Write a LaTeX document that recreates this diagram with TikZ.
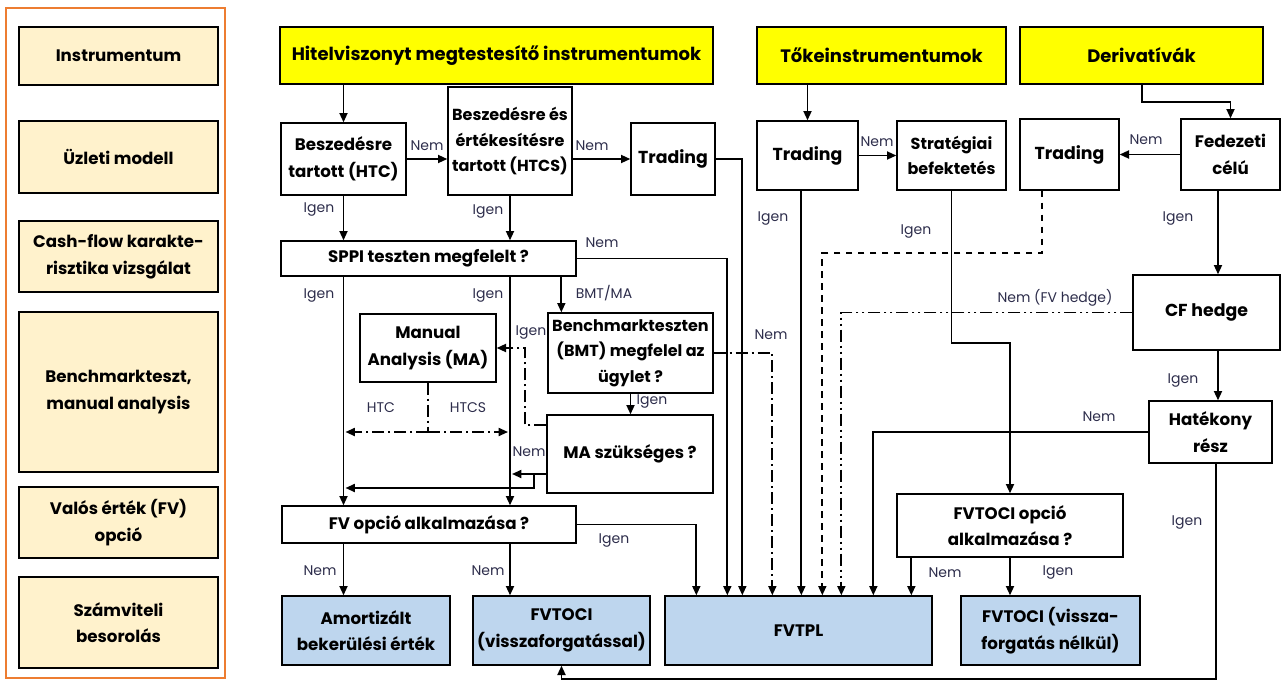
\documentclass[tikz,border=0pt]{standalone}
\usepackage{fontspec}
\setmainfont{Poppins}
\usetikzlibrary{arrows.meta,calc}

\definecolor{headyellow}{RGB}{255,255,0}
\definecolor{rowbeige}{RGB}{255,242,204}
\definecolor{frameorange}{RGB}{237,125,49}
\definecolor{resultblue}{RGB}{190,214,238}
\definecolor{labelink}{RGB}{45,45,75}

\tikzset{every picture/.style={line width=0.75pt}}
\tikzset{
  bw/.style={minimum width=#1*0.75pt},
  bh/.style={minimum height=#1*0.75pt},
  box/.style={draw, line width=1pt, fill=white, align=center, inner sep=0pt,
    font=\fontsize{12.5}{20}\selectfont\bfseries},
  rowbox/.style={box, fill=rowbeige},
  headbox/.style={box, fill=headyellow, font=\fontsize{13.5}{17}\selectfont\bfseries},
  resbox/.style={box, fill=resultblue},
  link/.style={line width=1.35pt},
  flow/.style={link, -{Triangle[length=7pt,width=6pt]}},
  lbl/.style={font=\fontsize{10.5}{12}\selectfont, text=labelink, inner sep=0pt},
  dashdot/.style={dash pattern=on 9pt off 3pt on 1.5pt off 3pt},
  dashdotdot/.style={dash pattern=on 9pt off 3pt on 1.5pt off 3pt on 1.5pt off 3pt},
  dashline/.style={dash pattern=on 5pt off 4pt}
}

\begin{document}
\begin{tikzpicture}[x=0.75pt,y=0.75pt,yscale=-1,xscale=1]
\useasboundingbox (0,0) rectangle (1286,682);

%Shape: Rectangle
\draw [frameorange, line width=1.6pt] (6,8) rectangle (225,678);

% Left column
\node [rowbox, bw=199, bh=58] (lInstr) at (118.5,56) {Instrumentum};
\node [rowbox, bw=199, bh=72] (lModell) at (118.5,157) {Üzleti modell};
\node [rowbox, bw=199, bh=71] (lCash) at (118.5,256.5) {Cash-flow karakte-\\risztika vizsgálat};
\node [rowbox, bw=199, bh=160] (lBench) at (118.5,392) {Benchmarkteszt,\\manual analysis};
\node [rowbox, bw=199, bh=71] (lFV) at (118.5,522.5) {Valós érték (FV)\\opció};
\node [rowbox, bw=199, bh=91] (lBesor) at (118.5,622.5) {Számviteli\\besorolás};

% Instruments
\node [headbox, bw=433, bh=57] (yHitel) at (496.5,55.5) {Hitelviszonyt megtestesítő instrumentumok};
\node [headbox, bw=249, bh=57] (yToke) at (881.5,55.5) {Tőkeinstrumentumok};
\node [headbox, bw=243, bh=57] (yDeriv) at (1141.5,55.5) {Derivatívák};

% Business model
\node [box, bw=125, bh=72] (nHTC) at (343.5,159) {Beszedésre\\tartott (HTC)};
\node [box, bw=124, bh=108, font=\fontsize{12}{19}\selectfont\bfseries] (nHTCS) at (510,141) {Beszedésre és\\értékesítésre\\tartott (HTCS)};
\node [box, bw=84, bh=72, font=\fontsize{13}{20}\selectfont\bfseries] (nTrad1) at (673,159) {Trading};
\node [box, bw=101, bh=69, font=\fontsize{13}{20}\selectfont\bfseries] (nTrad2) at (807.5,155.5) {Trading};
\node [box, bw=109, bh=69, font=\fontsize{12}{19}\selectfont\bfseries] (nStrat) at (951.5,155.5) {Stratégiai\\befektetés};
\node [box, bw=99, bh=71, font=\fontsize{13}{20}\selectfont\bfseries] (nTrad3) at (1069.5,154.5) {Trading};
\node [box, bw=99, bh=71] (nFedez) at (1230.5,154.5) {Fedezeti\\célú};

% Tests
\node [box, bw=295, bh=35] (nSPPI) at (428.5,258.5) {SPPI teszten megfelelt ?};
\node [box, bw=165, bh=80, font=\fontsize{12}{19}\selectfont\bfseries] (nBMT) at (630.5,353) {Benchmarkteszten\\(BMT) megfelel az\\ügylet ?};
\node [box, bw=136, bh=68] (nMA) at (428,348) {Manual\\Analysis (MA)};
\node [box, bw=166, bh=78] (nMAsz) at (630,454) {MA szükséges ?};
\node [box, bw=294, bh=37] (nFVopc) at (429,524.5) {FV opció alkalmazása ?};
\node [box, bw=147, bh=75, font=\fontsize{13}{20}\selectfont\bfseries] (nCF) at (1206.5,312.5) {CF hedge};
\node [box, bw=123, bh=62] (nHat) at (1210.5,432) {Hatékony\\rész};
\node [box, bw=226, bh=63] (nFVopc2) at (1010,525.5) {FVTOCI opció\\alkalmazása ?};

% Classification
\node [resbox, bw=168, bh=69] (nAmort) at (366,630.5) {Amortizált\\bekerülési érték};
\node [resbox, bw=177, bh=69] (nFVOCI1) at (561.5,630.5) {FVTOCI\\(visszaforgatással)};
\node [resbox, bw=267, bh=69] (nFVTPL) at (798.5,630.5) {FVTPL};
\node [resbox, bw=179, bh=69] (nFVOCI2) at (1050.5,630.5) {FVTOCI (vissza-\\forgatás nélkül)};

% FVTPL inputs
\coordinate (tpla) at ($(nFVTPL.north west)+(32,0)$);
\coordinate (tplb) at ($(nFVTPL.north west)+(63,0)$);
\coordinate (tplc) at ($(nFVTPL.north west)+(78,0)$);
\coordinate (tpld) at ($(nFVTPL.north west)+(108,0)$);
\coordinate (tple) at ($(nFVTPL.north west)+(137,0)$);
\coordinate (tplf) at ($(nFVTPL.north west)+(158,0)$);
\coordinate (tplg) at ($(nFVTPL.north west)+(177,0)$);
\coordinate (tplh) at ($(nFVTPL.north west)+(209,0)$);
\coordinate (tpli) at ($(nFVTPL.north west)+(247,0)$);

%Straight Lines
\draw [flow] (yHitel.south -| nHTC.north) -- (nHTC.north);
\draw [flow] (nHTC.east) -- (nHTC.east -| nHTCS.west);
\draw [flow] (nHTCS.east |- nTrad1.west) -- (nTrad1.west);
\draw [flow] (nTrad1.east) -| (tplc);
\draw [flow] (nHTC.south) -- (nHTC.south |- nSPPI.north);
\draw [flow] (nHTCS.south) -- (nHTCS.south |- nSPPI.north);
\draw [flow] (nSPPI.east) -| (tplb);
\coordinate (bmtIn) at ($(nBMT.north west)+(14,0)$);
\draw [flow] (nSPPI.south -| bmtIn) -- (bmtIn);
\draw [flow] (nSPPI.south -| nHTC.south) -- (nFVopc.north -| nHTC.south);
\draw [flow] (nSPPI.south -| nHTCS.south) -- (nFVopc.north -| nHTCS.south);
\draw [flow, dashdot] (nBMT.east) -| (tpld);
\draw [flow] (nBMT.south) -- (nBMT.south |- nMAsz.north);
\coordinate (maTurn) at (525,425);
\draw [flow, dashdot] (nMAsz.west |- maTurn) -- (maTurn) |- (nMA.east);
\coordinate (maSplit) at (428,432);
\draw [link, dashdot] (nMA.south) -- (maSplit);
\draw [flow, dashdot, shorten >=1.5pt] (maSplit) -- (maSplit -| nHTC.south);
\draw [flow, dashdot, shorten >=1.5pt] (maSplit) -- (maSplit -| nHTCS.south);
\coordinate (nemSplit) at (534,474);
\coordinate (nemLow) at (534,488);
\draw [flow, shorten >=1.5pt] (nMAsz.west |- nemSplit) -- (nemSplit -| nHTCS.south);
\draw [flow, shorten >=1.5pt] (nemSplit) -- (nemLow) -- (nemLow -| nHTC.south);
\draw [flow] (nFVopc.south -| nHTC.south) -- (nAmort.north -| nHTC.south);
\draw [flow] (nFVopc.south -| nHTCS.south) -- (nFVOCI1.north -| nHTCS.south);
\draw [flow] (nFVopc.east) -| (tpla);

\draw [flow] (yToke.south -| nTrad2.north) -- (nTrad2.north);
\draw [flow] (nTrad2.east) -- (nStrat.west);
\draw [flow] (nTrad2.south -| tple) -- (tple);
\coordinate (stratTurn) at (951.5,343);
\draw [flow] (nStrat.south) -- (stratTurn) -| (nFVopc2.north);

\coordinate (derivTurn) at (1142,102);
\draw [flow] (yDeriv.south -| derivTurn) -- (derivTurn) -| (nFedez.north);
\draw [flow] (nFedez.west) -- (nTrad3.east);
\coordinate (tradTurn) at (1042,253);
\draw [flow, dashline] (nTrad3.south -| tradTurn) -- (tradTurn) -| (tplf);
\coordinate (hedgeX) at (1218,0);
\draw [flow] (nFedez.south -| hedgeX) -- (nCF.north -| hedgeX);
\draw [flow, dashdotdot] (nCF.west) -| (tplg);
\draw [flow] (nCF.south -| hedgeX) -- (nHat.north -| hedgeX);
\draw [flow] (nHat.west) -| (tplh);
\coordinate (loopR) at (1216,679);
\draw [flow] (nHat.south -| loopR) -- (loopR) -| (nFVOCI1.south);
\draw [flow] (nFVopc2.south -| tpli) -- (tpli);
\draw [flow] (nFVopc2.south) -- (nFVOCI2.north -| nFVopc2.south);

% Text Node
\node [lbl] (lbNemA) at (427,146) {Nem};
\node [lbl] (lbNemB) at (592,146) {Nem};
\node [lbl] (lbIgenA) at (319,210) {Igen};
\node [lbl] (lbIgenB) at (488,212) {Igen};
\node [lbl] (lbNemC) at (602,243) {Nem};
\node [lbl] (lbBmtMa) at (604,293) {BMT/MA};
\node [lbl] (lbIgenC) at (319,296) {Igen};
\node [lbl] (lbIgenD) at (488,296) {Igen};
\node [lbl] (lbIgenE) at (531,333) {Igen};
\node [lbl] (lbNemD) at (771,335) {Nem};
\node [lbl] (lbIgenF) at (652,402) {Igen};
\node [lbl] (lbHTC) at (381,408) {HTC};
\node [lbl] (lbHTCS) at (468,408) {HTCS};
\node [lbl] (lbNemE) at (529,452) {Nem};
\node [lbl] (lbIgenG) at (614,541) {Igen};
\node [lbl] (lbNemF) at (320,571) {Nem};
\node [lbl] (lbNemG) at (488,571) {Nem};
\node [lbl] (lbNemH) at (877,142) {Nem};
\node [lbl] (lbIgenH) at (773,219) {Igen};
\node [lbl] (lbIgenI) at (916,232) {Igen};
\node [lbl] (lbNemI) at (1146,140) {Nem};
\node [lbl] (lbIgenJ) at (1178,219) {Igen};
\node [lbl] (lbNemFV) at (1055,298) {Nem (FV hedge)};
\node [lbl] (lbIgenK) at (1183,381) {Igen};
\node [lbl] (lbNemJ) at (1099,417) {Nem};
\node [lbl] (lbIgenL) at (1187,523) {Igen};
\node [lbl] (lbNemK) at (945,573) {Nem};
\node [lbl] (lbIgenM) at (1058,573) {Igen};

\end{tikzpicture}
\end{document}
